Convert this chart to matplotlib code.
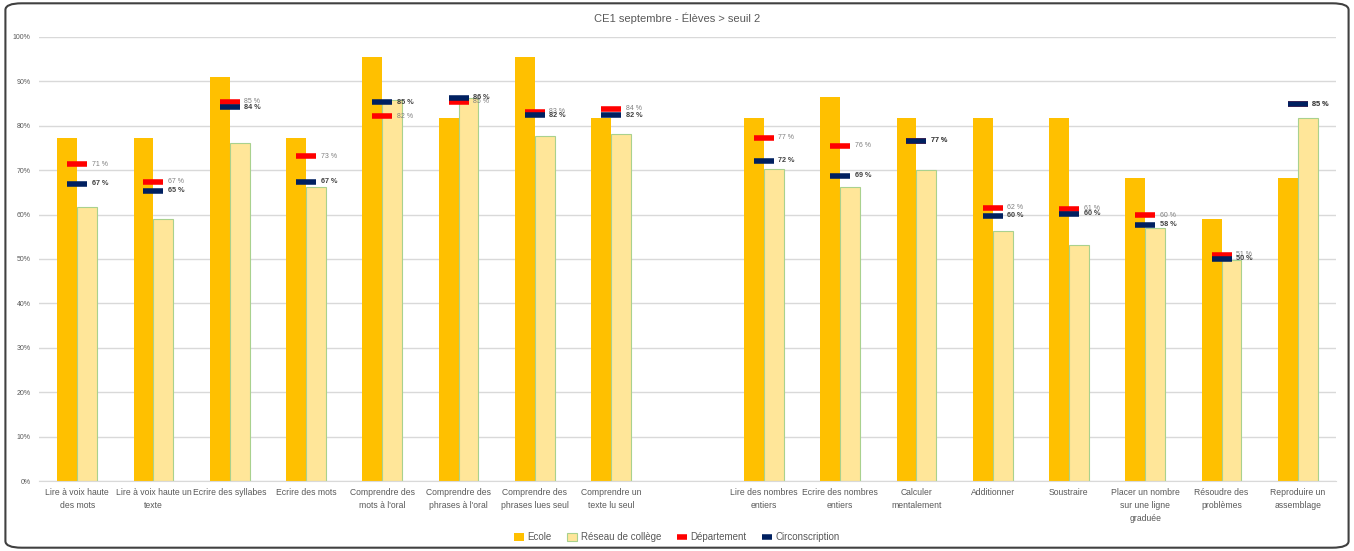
import numpy as np
import matplotlib
matplotlib.use("Agg")
import matplotlib.pyplot as plt
from matplotlib.patches import FancyBboxPatch
from matplotlib.ticker import FuncFormatter

plt.rcParams["font.family"] = ["Liberation Sans", "DejaVu Sans"]

# données
categories = ["Lire à voix haute\ndes mots", "Lire à voix haute un\ntexte", "Ecrire des syllabes",
              "Ecrire des mots", "Comprendre des\nmots à l'oral", "Comprendre des\nphrases à l'oral",
              "Comprendre des\nphrases lues seul", "Comprendre un\ntexte lu seul", "",
              "Lire des nombres\nentiers", "Ecrire des nombres\nentiers", "Calculer\nmentalement",
              "Additionner", "Soustraire", "Placer un nombre\nsur une ligne\ngraduée",
              "Résoudre des\nproblèmes", "Reproduire un\nassemblage"]
ecole = [77.3, 77.3, 90.9, 77.3, 95.5, 81.8, 95.5, 81.8, np.nan,
         81.8, 86.4, 81.8, 81.8, 81.8, 68.2, 59.1, 68.2]
reseau = [61.6, 59.1, 76.2, 66.1, 85.7, 86.3, 77.8, 78.1, np.nan,
          70.2, 66.1, 70.1, 56.3, 53.2, 57.0, 49.8, 81.7]
departement = [71.3, 67.4, 85.4, 73.1, 82.1, 85.4, 83.2, 83.8, np.nan,
               77.3, 75.5, 76.6, 61.5, 61.3, 59.9, 50.9, 84.8]
circonscription = [66.9, 65.4, 84.2, 67.4, 85.3, 86.3, 82.4, 82.4, np.nan,
                   72.1, 68.7, 76.6, 59.7, 60.2, 57.7, 50.0, 84.8]

x = np.arange(len(categories))
w = 0.26

fig = plt.figure(figsize=(13.54, 5.51), dpi=100, facecolor="white")
ax = fig.add_axes([0.0288, 0.127, 0.9579, 0.806])

b1 = ax.bar(x - w / 2, ecole, w, color="#FFC000", label="Ecole", zorder=2)
b2 = ax.bar(x + w / 2, reseau, w, color="#FFE699", edgecolor="#A9D18E", linewidth=0.8,
            label="Réseau de collège", zorder=2)
l1, = ax.plot(x, departement, linestyle="none", marker="_", markersize=14, markeredgewidth=4,
              color="#FF0000", label="Département", zorder=3)
l2, = ax.plot(x, circonscription, linestyle="none", marker="_", markersize=14, markeredgewidth=4,
              color="#002060", label="Circonscription", zorder=4)

for xi, v in zip(x, departement):
    if not np.isnan(v):
        ax.annotate(f"{v:.0f} %", (xi, v), xytext=(10.5, 0), textcoords="offset points",
                    va="center", ha="left", fontsize=5, color="#7f7f7f", zorder=5)
for xi, v in zip(x, circonscription):
    if not np.isnan(v):
        ax.annotate(f"{v:.0f} %", (xi, v), xytext=(10.5, 0), textcoords="offset points",
                    va="center", ha="left", fontsize=5.2, color="#404040",
                    fontweight="bold", zorder=5)

ax.set_xlim(-0.5, len(categories) - 0.5)
ax.set_ylim(0, 100)
ax.set_yticks(np.arange(0, 101, 10))
ax.yaxis.set_major_formatter(FuncFormatter(lambda v, p: f"{v:.0f}%"))
ax.tick_params(axis="y", labelsize=5, colors="#595959", length=0, pad=6)
ax.set_xticks(x)
ax.set_xticklabels(categories, fontsize=6.2, color="#595959", linespacing=1.6)
ax.tick_params(axis="x", length=0, pad=5)
ax.grid(axis="y", color="#d9d9d9", linewidth=1, zorder=0)
ax.set_axisbelow(True)
for s in ["top", "right", "left"]:
    ax.spines[s].set_visible(False)
ax.spines["bottom"].set_color("#d9d9d9")

fig.text(0.5, 0.967, "CE1 septembre - Élèves > seuil 2", ha="center", va="center",
         fontsize=8, color="#595959")

fig.legend([b1, b2, l1, l2], ["Ecole", "Réseau de collège", "Département", "Circonscription"],
           loc="lower center", bbox_to_anchor=(0.5, 0.0), ncol=4, frameon=False,
           fontsize=7, labelcolor="#595959", handlelength=1.0, handleheight=0.8,
           columnspacing=1.6, handletextpad=0.4, markerscale=0.5)

fig.patches.append(FancyBboxPatch((0.004, 0.006), 0.992, 0.988,
                                  boxstyle="round,pad=0,rounding_size=0.012",
                                  transform=fig.transFigure, fill=False,
                                  edgecolor="#404040", linewidth=1.5))

fig.savefig("out.png", dpi=100)
